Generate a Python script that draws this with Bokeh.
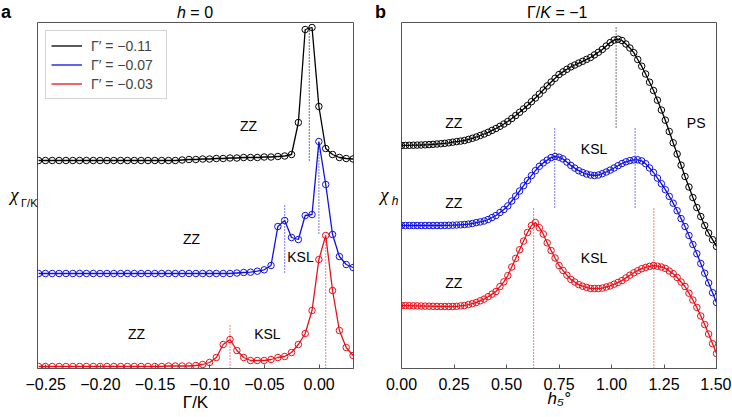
from bokeh.plotting import figure
from bokeh.models import Legend, LegendItem, FixedTicker, Range1d, ColumnDataSource, LinearAxis, Div
from bokeh.layouts import row, column
from bokeh.embed import file_html
from bokeh.resources import INLINE
from bokeh.core.properties import value

# ---------------- data: panel a (h = 0) ----------------
gamma_k = [-0.2565, -0.25025, -0.244, -0.23775, -0.2315, -0.22525, -0.219, -0.21275, -0.2065, -0.20025,
           -0.194, -0.18775, -0.1815, -0.17525, -0.169, -0.16275, -0.1565, -0.15025, -0.144, -0.13775,
           -0.1315, -0.12525, -0.119, -0.11275, -0.1065, -0.10025, -0.094, -0.08775, -0.0815, -0.07525,
           -0.069, -0.06275, -0.0565, -0.05025, -0.044, -0.03775, -0.0315, -0.02525, -0.019, -0.01275,
           -0.0065, -0.00025, 0.006, 0.01225, 0.0185, 0.02475, 0.031]
chi_a_m011 = [208, 208, 208, 208, 208, 208, 208, 208, 208, 208,
              208, 208, 208, 208, 208, 208, 208, 208, 208, 208,
              208, 208.5, 209, 209, 209.5, 209.5, 210, 210, 210.5, 210.5,
              211, 211, 211, 211.5, 211.5, 212, 212.5, 214, 246, 339,
              341, 262, 220, 214, 211, 210, 209.5]
chi_a_m007 = [95, 95, 95, 95, 95, 95, 95, 95, 95, 95,
              95, 95, 95, 95, 95, 95, 95, 95, 95, 95,
              95, 95, 95, 95, 95, 95, 95, 95, 95, 95.5,
              96, 96.3, 97.3, 98.7, 103, 142, 148, 131, 129, 153,
              154, 227, 184, 134, 112, 104, 101]
chi_a_m003 = [2, 2, 2, 2, 2, 2, 2, 2, 2, 2,
              2, 2, 2, 2, 2, 2, 2, 2, 2, 2.5,
              2.5, 2.5, 2.5, 3, 4, 6, 11, 24, 29, 18,
              11, 8, 8, 8, 9, 11, 12, 16, 24, 35,
              58, 109, 133, 78, 38, 21, 13]
a_ticks = [-0.25, -0.20, -0.15, -0.10, -0.05, 0.00]
a_tick_labels = ["\u22120.25", "\u22120.20", "\u22120.15", "\u22120.10", "\u22120.05", "0.00"]
a_dot_x = [-0.009, -0.0315, -0.00025, -0.0815, 0.006]
a_dot_y0 = [208, 96, 135, 0, 0]
a_dot_y1 = [341, 163, 225, 45, 131]
a_dot_c = ["#000000", "#1010e0", "#1010e0", "#e8101a", "#e8101a"]
a_reg_text = ["ZZ", "ZZ", "KSL", "ZZ", "KSL"]
a_reg_x = [-0.0646, -0.1167, -0.0171, -0.167, -0.0473]
a_reg_y = [243, 130, 112, 35, 35]
legend_labels = ["\u0393\u2032 = \u22120.11", "\u0393\u2032 = \u22120.07", "\u0393\u2032 = \u22120.03"]

# ---------------- data: panel b (Gamma/K = -1) ----------------
h_field = [0.0, 0.01875, 0.0375, 0.05625, 0.075, 0.09375, 0.1125, 0.13125, 0.15, 0.16875,
           0.1875, 0.20625, 0.225, 0.24375, 0.2625, 0.28125, 0.3, 0.31875, 0.3375, 0.35625,
           0.375, 0.39375, 0.4125, 0.43125, 0.45, 0.46875, 0.4875, 0.50625, 0.525, 0.54375,
           0.5625, 0.58125, 0.6, 0.61875, 0.6375, 0.65625, 0.675, 0.69375, 0.7125, 0.73125,
           0.75, 0.76875, 0.7875, 0.80625, 0.825, 0.84375, 0.8625, 0.88125, 0.9, 0.91875,
           0.9375, 0.95625, 0.975, 0.99375, 1.0125, 1.03125, 1.05, 1.06875, 1.0875, 1.10625,
           1.125, 1.14375, 1.1625, 1.18125, 1.2, 1.21875, 1.2375, 1.25625, 1.275, 1.29375,
           1.3125, 1.33125, 1.35, 1.36875, 1.3875, 1.40625, 1.425, 1.44375, 1.4625, 1.48125,
           1.5]
chi_b_black = [223, 223.1, 223.2, 223.3, 223.4, 223.5, 223.7, 223.9, 224.2, 224.5,
               224.8, 225.2, 225.7, 226.3, 226.9, 227.4, 228, 229.1, 230.2, 231.5,
               233, 234.5, 236.2, 238.1, 240, 242.2, 244.5, 247, 250, 253,
               256.2, 259.6, 263, 266.8, 270.5, 274.4, 278.5, 282.6, 286.5, 290.2,
               294, 296.6, 299.2, 301.6, 303.5, 305.4, 307.2, 309.1, 311, 313.6,
               316.2, 319.1, 322.5, 325.9, 328.5, 329.3, 328, 324.5, 320.5, 315.8,
               309, 302.3, 294.5, 286.3, 278, 268.3, 258.5, 248.3, 237, 225.7,
               214.5, 203.3, 192, 181.5, 171, 161, 152, 143, 135.5, 128.8,
               122]
chi_b_blue = [143, 143, 143, 143, 143, 143, 143, 143, 143, 143,
              143, 143.1, 143.2, 143.3, 143.5, 143.7, 144, 144.4, 145, 145.9,
              146.6, 147.5, 149, 151, 153, 156, 159, 162.6, 167.5, 172.4,
              177.5, 182.8, 188, 192.9, 197.8, 202.2, 205.6, 208.4, 210.9, 212,
              211.3, 209.6, 206.4, 203.1, 200.4, 197.8, 196, 194.5, 193.5, 193,
              193.5, 194.8, 196.5, 198.4, 200.5, 202.8, 205, 206.7, 207.9, 208.6,
              208.7, 207.6, 204.8, 200.5, 196, 190.4, 184.8, 178.8, 172.1, 165.3,
              157.8, 149.9, 142, 133, 124, 114.8, 105, 95.3, 85.6, 75.8,
              66]
chi_b_red = [63, 62.9, 62.8, 62.7, 62.6, 62.5, 62.4, 62.3, 62.2, 62.1,
             62, 62, 62, 62, 62.2, 62.6, 63, 63.9, 64.9, 66,
             67.7, 69.4, 71.8, 74.4, 77, 81.9, 86.7, 92.9, 101.5, 110.1,
             118.8, 127.4, 136, 143, 146, 140.8, 134.5, 125.6, 118, 110.5,
             103, 98.1, 93.3, 89.1, 86.5, 83.9, 82.3, 81.1, 80, 80,
             80, 80.4, 81.5, 82.6, 84.3, 86.1, 88, 90.6, 93.3, 95.7,
             97.8, 99.8, 101.1, 102.1, 103, 102.3, 101.5, 100.1, 97.5, 94.8,
             91, 86.5, 82, 75.3, 68.5, 61.1, 52.5, 43.9, 34.5, 24.8,
             15]
b_ticks = [0.0, 0.25, 0.5, 0.75, 1.0, 1.25, 1.5]
b_tick_labels = ["0.00", "0.25", "0.50", "0.75", "1.00", "1.25", "1.50"]
b_dot_x = [1.022, 0.7296, 1.1126, 0.629, 1.2017]
b_dot_y0 = [241, 161, 161, 0, 0]
b_dot_y1 = [343, 241, 241, 160, 160]
b_dot_c = ["#000000", "#1010e0", "#1010e0", "#e8101a", "#e8101a"]
b_reg_text = ["ZZ", "PS", "KSL", "ZZ", "KSL", "ZZ"]
b_reg_x = [0.249, 1.403, 0.917, 0.249, 0.917, 0.249]
b_reg_y = [246, 246, 220, 166, 111, 86]

FONT = "Liberation Sans"
SERIF = "Liberation Serif"
COLORS = ["#000000", "#1010e0", "#e8101a"]
FRAME = "#555555"


def make_fig(width, bl, br, xr):
    p = figure(width=width, height=395, x_range=Range1d(*xr), y_range=Range1d(0, 346),
               output_backend="svg", toolbar_location=None, y_axis_location=None,
               min_border_left=bl, min_border_right=br, min_border_top=1, min_border_bottom=48)
    p.grid.visible = False
    p.outline_line_color = FRAME
    p.outline_line_width = 1
    ax = p.xaxis[0]
    ax.axis_line_color = FRAME
    ax.major_tick_line_color = FRAME
    ax.major_tick_in = 4
    ax.major_tick_out = 0
    ax.minor_tick_line_color = None
    ax.major_label_text_font = FONT
    ax.major_label_text_font_size = "16px"
    ax.major_label_text_color = "black"
    ax.major_label_standoff = 9
    ax.axis_label_text_font = FONT
    ax.axis_label_text_font_size = "17px"
    ax.axis_label_text_color = "black"
    return p


def side_text(p, y, text, size, style, standoff, font=FONT):
    ax = LinearAxis(ticker=FixedTicker(ticks=[y]), major_label_overrides={y: text},
                    axis_line_color=None, major_tick_line_color=None, minor_tick_line_color=None,
                    major_tick_in=0, major_tick_out=0, major_label_standoff=standoff,
                    major_label_text_font=font, major_label_text_font_size=f"{size}px",
                    major_label_text_font_style=style, major_label_text_color="black")
    p.add_layout(ax, "left")


def top_div(width, letter, title_left, title_html):
    html = (f'<div style="position:relative;width:{width}px;height:21px;'
            f'font-family:\'Liberation Sans\',Arial,sans-serif;color:#000;">'
            f'<span style="position:absolute;left:1px;top:3px;font-size:18px;line-height:1;'
            f'font-weight:bold;">{letter}</span>'
            f'<span style="position:absolute;left:{title_left}px;top:5px;font-size:16px;line-height:1;'
            f'white-space:nowrap;">{title_html}</span></div>')
    return Div(text=html, width=width, height=21, margin=0)


# ---------------- panel a ----------------
pa = make_fig(374, 37, 21, (-0.2575, 0.0314))
pa.xaxis[0].ticker = FixedTicker(ticks=a_ticks)
pa.xaxis[0].major_label_overrides = dict(zip(a_ticks, a_tick_labels))
pa.xaxis[0].axis_label = "\u0393/K"
pa.xaxis[0].axis_label_text_font_style = "normal"
pa.xaxis[0].axis_label_standoff = 0

pa.segment(x0="x", y0="y0", x1="x", y1="y1", line_color="c", line_dash="1 2", line_width=1.1,
           source=ColumnDataSource(dict(x=a_dot_x, y0=a_dot_y0, y1=a_dot_y1, c=a_dot_c)))
line_rs = []
for ys, c in zip([chi_a_m011, chi_a_m007, chi_a_m003], COLORS):
    r = pa.line(gamma_k, ys, line_color=c, line_width=1.3)
    pa.scatter(gamma_k, ys, marker="circle", size=6.5, fill_color=None, line_color=c, line_width=1)
    line_rs.append(r)
pa.text(x=a_reg_x, y=a_reg_y, text=a_reg_text, text_font=value(FONT), text_font_size="14px",
        text_align="center", text_baseline="middle", text_color="black")

legend = Legend(items=[LegendItem(label=l, renderers=[r]) for l, r in zip(legend_labels, line_rs)],
                location="top_left", margin=8, padding=5, spacing=0, glyph_width=31, glyph_height=19,
                label_height=19, label_width=70, label_standoff=9, label_text_font=FONT,
                label_text_font_size="14px", border_line_color="#aaaaaa", border_line_width=1,
                background_fill_alpha=1)
pa.add_layout(legend)

side_text(pa, 166, "\u0393/K", 11, "normal", 0)
side_text(pa, 174, "\u03c7", 19, "italic", 0, SERIF)

# ---------------- panel b ----------------
pb = make_fig(357, 27, 15, (0.0, 1.5))
pb.xaxis[0].ticker = FixedTicker(ticks=b_ticks)
pb.xaxis[0].major_label_overrides = dict(zip(b_ticks, b_tick_labels))
pb.xaxis[0].axis_label = "h\u2085\u00b0"
pb.xaxis[0].axis_label_text_font_style = "italic"
pb.xaxis[0].axis_label_standoff = -4

pb.segment(x0="x", y0="y0", x1="x", y1="y1", line_color="c", line_dash="1 2", line_width=1.1,
           source=ColumnDataSource(dict(x=b_dot_x, y0=b_dot_y0, y1=b_dot_y1, c=b_dot_c)))
for ys, c in zip([chi_b_black, chi_b_blue, chi_b_red], COLORS):
    pb.line(h_field, ys, line_color=c, line_width=1.3)
    pb.scatter(h_field, ys, marker="circle", size=6.5, fill_color=None, line_color=c, line_width=1)
pb.text(x=b_reg_x, y=b_reg_y, text=b_reg_text, text_font=value(FONT), text_font_size="14px",
        text_align="center", text_baseline="middle", text_color="black")

side_text(pb, 168, "h", 12, "italic", 3)
side_text(pb, 174, "\u03c7", 19, "italic", 0, SERIF)

top_a = top_div(374, "a", 177, "<i>h</i> = 0")
top_b = top_div(357, "b", 153, "\u0393/<i>K</i> = \u22121")

layout = column(row(top_a, top_b, spacing=0), row(pa, pb, spacing=0), spacing=0)
open("out.html", "w").write(file_html(layout, INLINE))
